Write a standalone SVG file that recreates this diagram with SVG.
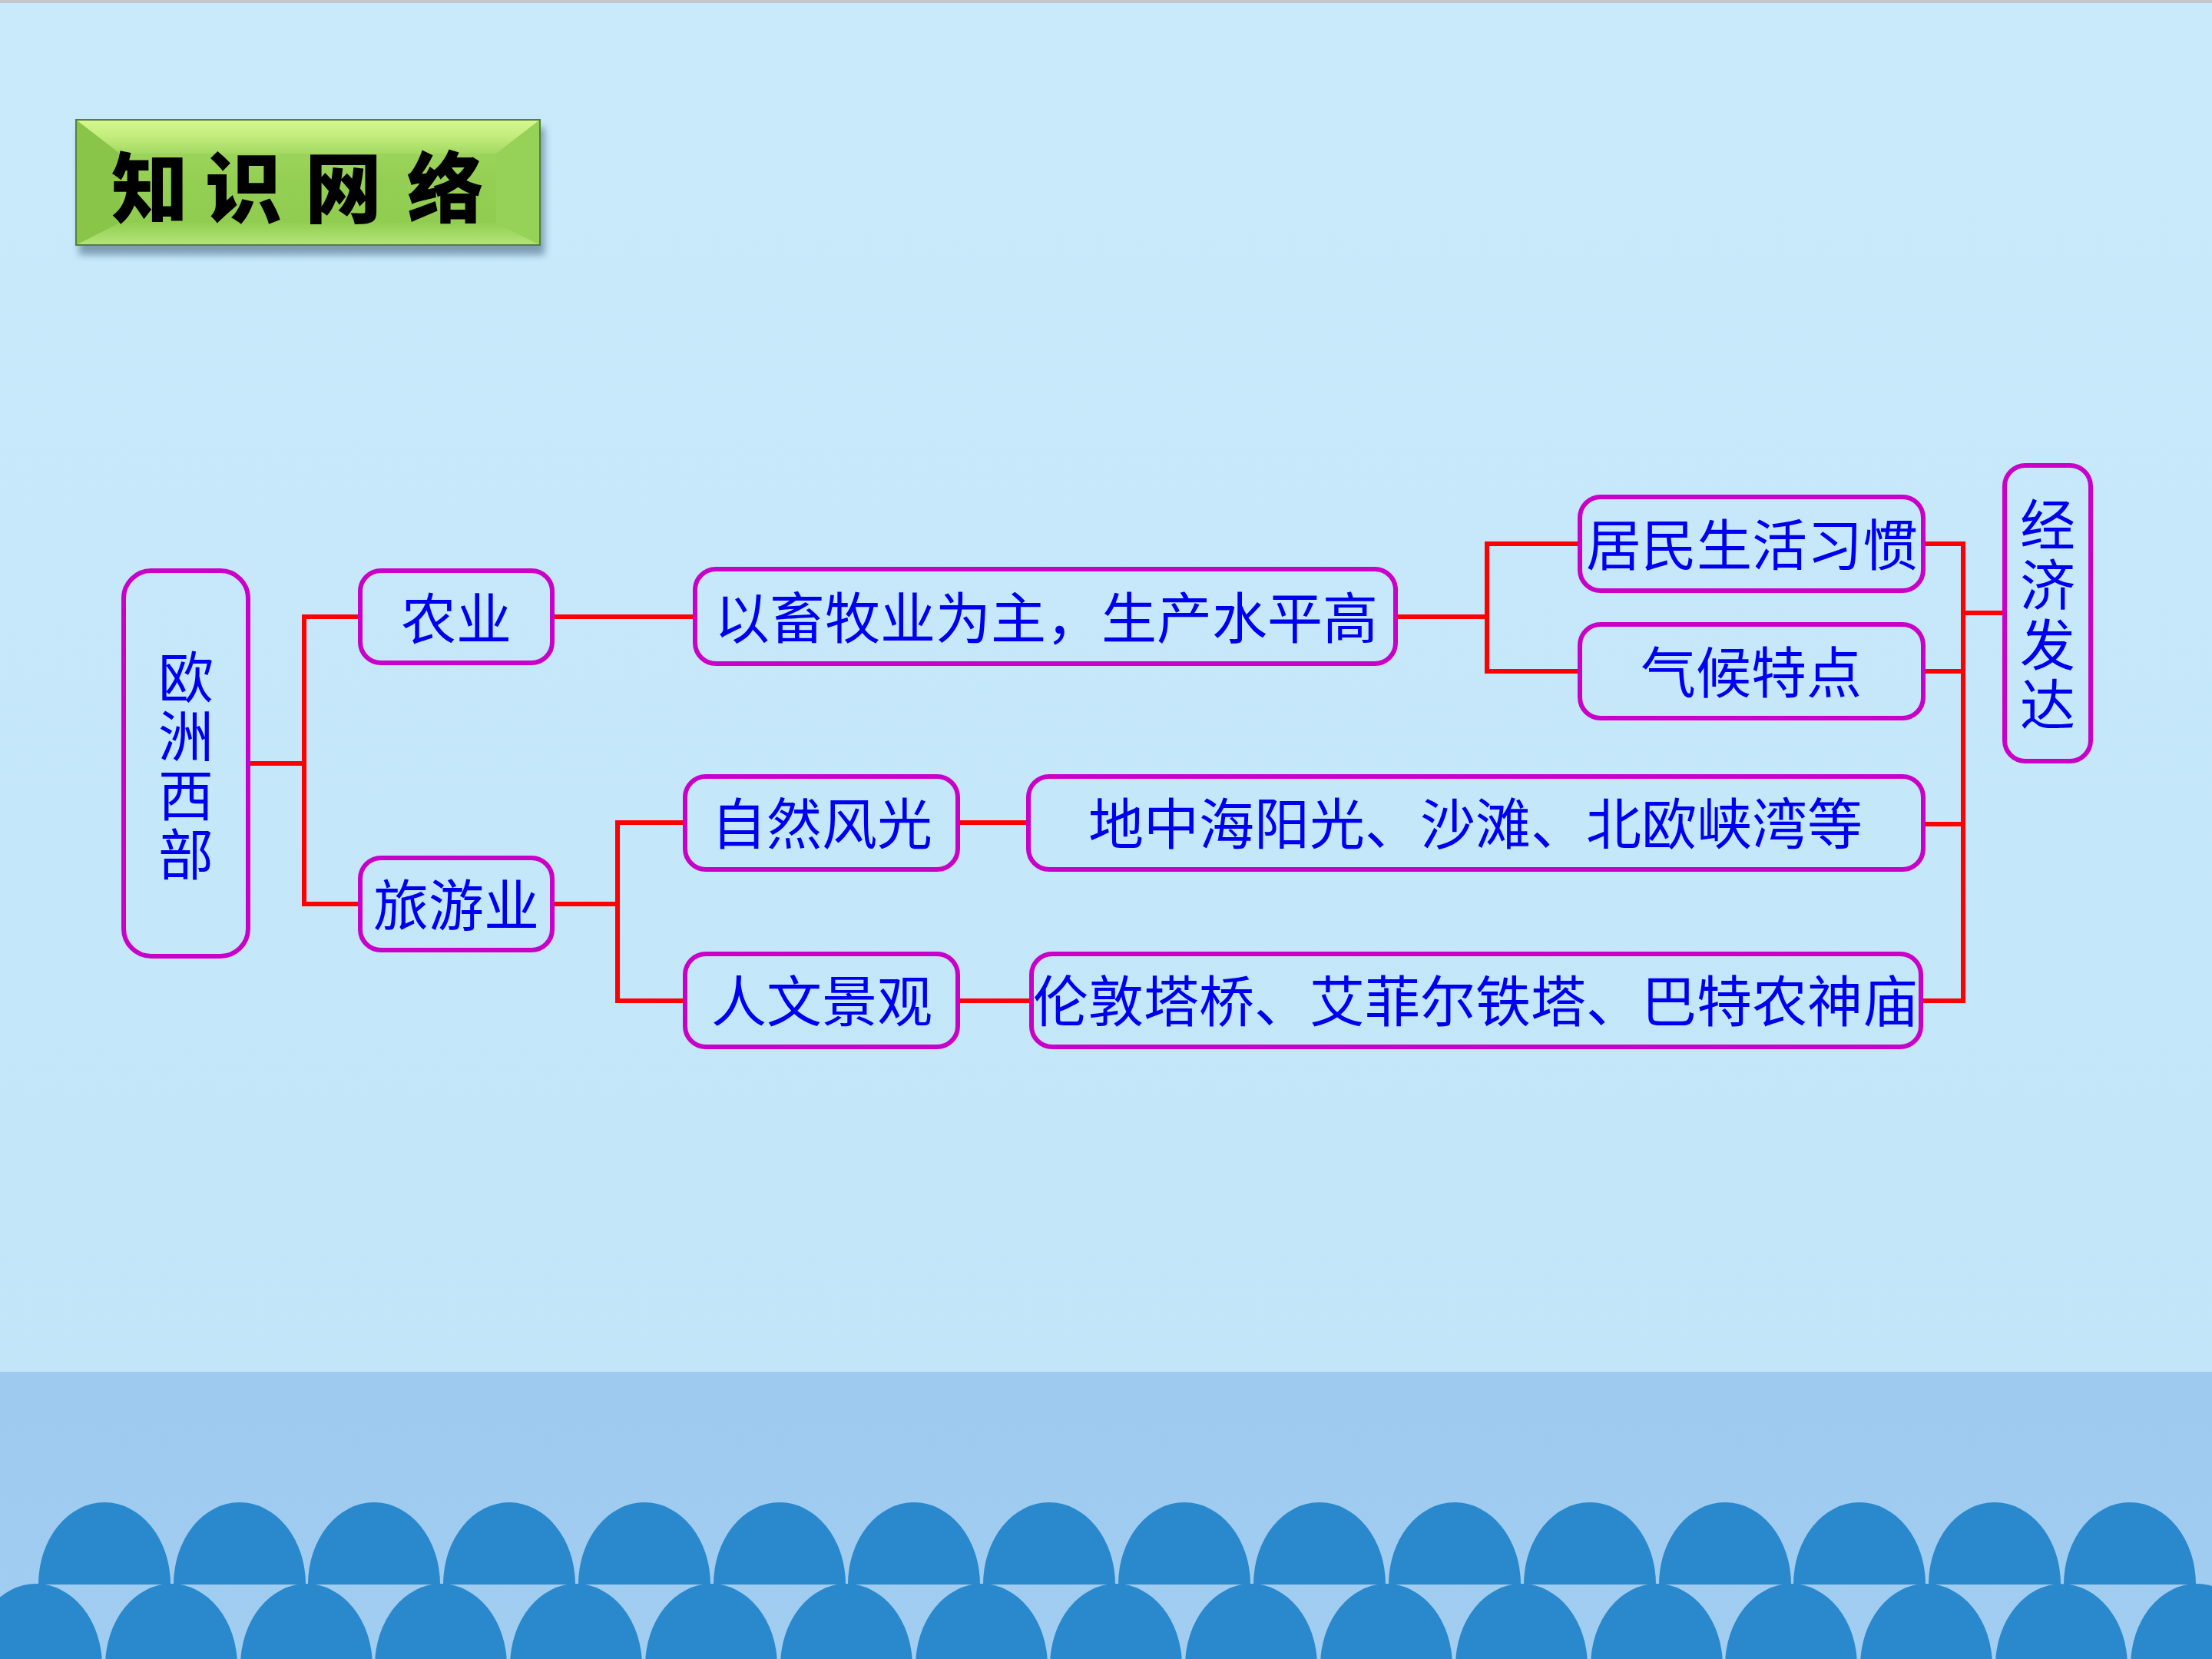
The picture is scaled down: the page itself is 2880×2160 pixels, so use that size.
<svg xmlns="http://www.w3.org/2000/svg" width="2880" height="2160" viewBox="0 0 2880 2160">
<defs>
<style>
.box{fill:none;stroke:#C800C8;stroke-width:6}
.t{font-family:"Noto Sans CJK SC","Noto Sans CJK JP",sans-serif;font-size:72px;fill:#0000F0;text-anchor:middle}
.v{writing-mode:vertical-rl;text-orientation:upright}
.conn{stroke:#FF0000;stroke-width:6;fill:none;stroke-linejoin:miter;stroke-linecap:butt}
.wave{fill:#2A88CD}
.title{font-family:"Noto Sans CJK SC","Noto Sans CJK JP",sans-serif;font-size:100px;font-weight:900;fill:#000000;text-anchor:middle}
</style>
<linearGradient id="bg" x1="0" y1="0" x2="0" y2="1">
<stop offset="0" stop-color="#C8EAFB"/>
<stop offset="1" stop-color="#C2E4F8"/>
</linearGradient>
<linearGradient id="band" x1="0" y1="0" x2="0" y2="1">
<stop offset="0" stop-color="#9DCAEE"/>
<stop offset="1" stop-color="#A0CDF0"/>
</linearGradient>
<linearGradient id="face" x1="0" y1="0" x2="0" y2="1">
<stop offset="0" stop-color="#A6DA66"/>
<stop offset="0.5" stop-color="#93CF52"/>
<stop offset="1" stop-color="#8FCB4E"/>
</linearGradient>
<linearGradient id="topb" x1="0" y1="0" x2="0" y2="1">
<stop offset="0" stop-color="#D6F890"/>
<stop offset="0.5" stop-color="#C2EC7C"/>
<stop offset="1" stop-color="#A3D962"/>
</linearGradient>
<linearGradient id="botb" x1="0" y1="0" x2="0" y2="1">
<stop offset="0" stop-color="#93CF52"/>
<stop offset="1" stop-color="#B4E47A"/>
</linearGradient>
<filter id="sh" x="-10%" y="-20%" width="120%" height="160%">
<feGaussianBlur stdDeviation="5"/>
</filter>
</defs>

<g id="background">
<rect x="0" y="0" width="2880" height="2160" fill="url(#bg)"/>
<rect x="0" y="0" width="2880" height="4" fill="#C4C8CC"/>
<rect x="0" y="1786" width="2880" height="374" fill="url(#band)"/>
</g>

<g id="waves">
<path class="wave" d="M50,2063 A86,107 0 0 1 222,2063 Z M226,2063 A86,107 0 0 1 398,2063 Z M401,2063 A86,107 0 0 1 573,2063 Z M577,2063 A86,107 0 0 1 749,2063 Z M753,2063 A86,107 0 0 1 925,2063 Z M929,2063 A86,107 0 0 1 1101,2063 Z M1104,2063 A86,107 0 0 1 1276,2063 Z M1280,2063 A86,107 0 0 1 1452,2063 Z M1456,2063 A86,107 0 0 1 1628,2063 Z M1632,2063 A86,107 0 0 1 1804,2063 Z M1808,2063 A86,107 0 0 1 1980,2063 Z M1984,2063 A86,107 0 0 1 2156,2063 Z M2160,2063 A86,107 0 0 1 2332,2063 Z M2335,2063 A86,107 0 0 1 2507,2063 Z M2511,2063 A86,107 0 0 1 2683,2063 Z M2687,2063 A86,107 0 0 1 2859,2063 Z"/>
<path class="wave" d="M-39,2169 A86,107 0 0 1 133,2169 Z M137,2169 A86,107 0 0 1 309,2169 Z M313,2169 A86,107 0 0 1 485,2169 Z M488,2169 A86,107 0 0 1 660,2169 Z M664,2169 A86,107 0 0 1 836,2169 Z M840,2169 A86,107 0 0 1 1012,2169 Z M1016,2169 A86,107 0 0 1 1188,2169 Z M1192,2169 A86,107 0 0 1 1364,2169 Z M1367,2169 A86,107 0 0 1 1539,2169 Z M1543,2169 A86,107 0 0 1 1715,2169 Z M1719,2169 A86,107 0 0 1 1891,2169 Z M1895,2169 A86,107 0 0 1 2067,2169 Z M2071,2169 A86,107 0 0 1 2243,2169 Z M2246,2169 A86,107 0 0 1 2418,2169 Z M2422,2169 A86,107 0 0 1 2594,2169 Z M2598,2169 A86,107 0 0 1 2770,2169 Z M2774,2169 A86,107 0 0 1 2946,2169 Z"/>
</g>

<g id="title">
<rect x="103" y="166" width="606" height="166" fill="#3F5F78" opacity="0.55" filter="url(#sh)"/>
<rect x="99" y="156" width="604" height="163" fill="url(#face)"/>
<polygon points="99,156 703,156 646,200 156,200" fill="url(#topb)"/>
<polygon points="99,156 156,200 156,290 99,319" fill="#88C549"/>
<polygon points="703,156 703,319 646,290 646,200" fill="#97D258"/>
<polygon points="99,319 703,319 646,290 156,290" fill="url(#botb)"/>
<rect x="99" y="156" width="604" height="163" fill="none" stroke="#55803A" stroke-width="2"/>
<text class="title" x="195 317 447 580" y="282">知识网络</text>
</g>

<g id="connectors">
<path class="conn" d="M323,994 H396"/>
<path class="conn" d="M469,803 H396 V1177 H469"/>
<path class="conn" d="M719,803 H905"/>
<path class="conn" d="M1817,803 H1936"/>
<path class="conn" d="M2057,708 H1936 V874 H2057"/>
<path class="conn" d="M719,1177 H804"/>
<path class="conn" d="M892,1071 H804 V1303 H892"/>
<path class="conn" d="M1247,1071 H1339"/>
<path class="conn" d="M1247,1303 H1343"/>
<path class="conn" d="M2504,708 H2556 V1303 H2501"/>
<path class="conn" d="M2504,874 H2556"/>
<path class="conn" d="M2504,1073 H2556"/>
<path class="conn" d="M2556,798 H2610"/>
</g>

<g id="n-ouzhouxibu">
<rect class="box" x="161" y="743" width="162" height="502" rx="36" ry="36"/>
<text class="t v" x="242" y="999" letter-spacing="5">欧洲西部</text>
</g>

<g id="n-nongye">
<rect class="box" x="469" y="743" width="250" height="120" rx="27" ry="27"/>
<text class="t" x="594" y="832">农业</text>
</g>

<g id="n-lvyouye">
<rect class="box" x="469" y="1117" width="250" height="120" rx="27" ry="27"/>
<text class="t" x="594" y="1205">旅游业</text>
</g>

<g id="n-xumuye">
<rect class="box" x="905" y="741" width="912" height="123" rx="27" ry="27"/>
<text class="t" x="1362" y="831">以畜牧业为主，生产水平高</text>
</g>

<g id="n-ziranfengguang">
<rect class="box" x="892" y="1011" width="355" height="121" rx="27" ry="27"/>
<text class="t" x="1070" y="1099">自然风光</text>
</g>

<g id="n-renwenjingguan">
<rect class="box" x="892" y="1242" width="355" height="121" rx="27" ry="27"/>
<text class="t" x="1070" y="1330">人文景观</text>
</g>

<g id="n-dizhonghai">
<rect class="box" x="1339" y="1011" width="1165" height="121" rx="27" ry="27"/>
<text class="t" x="1921" y="1099">地中海阳光、沙滩、北欧峡湾等</text>
</g>

<g id="n-lundun">
<rect class="box" x="1343" y="1242" width="1158" height="121" rx="27" ry="27"/>
<text class="t" x="1921" y="1330">伦敦塔桥、艾菲尔铁塔、巴特农神庙</text>
</g>

<g id="n-jumin">
<rect class="box" x="2057" y="647" width="447" height="122" rx="27" ry="27"/>
<text class="t" x="2281" y="736">居民生活习惯</text>
</g>

<g id="n-qihou">
<rect class="box" x="2057" y="813" width="447" height="122" rx="27" ry="27"/>
<text class="t" x="2280" y="902">气候特点</text>
</g>

<g id="n-jingjifada">
<rect class="box" x="2610" y="606" width="112" height="385" rx="27" ry="27"/>
<text class="t v" x="2666" y="803" letter-spacing="6">经济发达</text>
</g>
</svg>
